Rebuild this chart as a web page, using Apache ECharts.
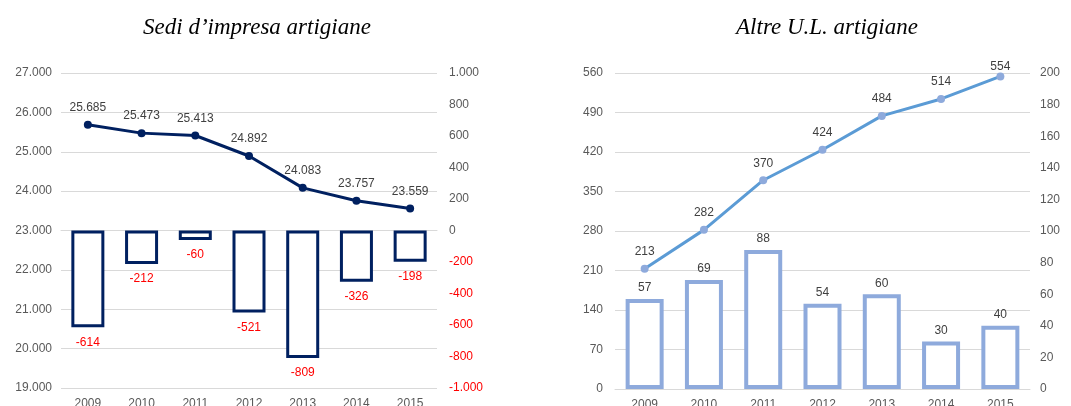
<!DOCTYPE html>
<html><head><meta charset="utf-8">
<script src="https://cdn.jsdelivr.net/npm/echarts@6/dist/echarts.min.js"></script>
<style>html,body{margin:0;padding:0;background:#fff}#c{width:1071px;height:406px}</style>
</head><body><div id="c"></div>
<script>
const years = ['2009','2010','2011','2012','2013','2014','2015'];
const sediTotal = [25685, 25473, 25413, 24892, 24083, 23757, 23559];
const sediDelta = [-614, -212, -60, -521, -809, -326, -198];
const altreTotal = [213, 282, 370, 424, 484, 514, 554];
const altreDelta = [57, 69, 88, 54, 60, 30, 40];
const leftTitle = 'Sedi d\u2019impresa artigiane';
const rightTitle = 'Altre U.L. artigiane';

function fmt(v){
  const s = Math.abs(v).toString().replace(/\B(?=(\d{3})+(?!\d))/g, '.');
  return (v < 0 ? '-' : '') + s;
}
const gray = '#595959';
const labGray = '#404040';
const grid = '#d9d9d9';
const font = 'Liberation Sans, Arial, sans-serif';
const titleStyle = {fontFamily:'Liberation Serif, Times New Roman, serif', fontStyle:'italic', fontWeight:'normal', fontSize:23, color:'#000'};

const chart = echarts.init(document.getElementById('c'), null, {renderer:'canvas'});
const xBase = {
  type:'category', data: years,
  axisLine:{show:true, lineStyle:{color:grid, width:1}},
  axisTick:{show:false},
  axisLabel:{color:gray, fontSize:12, fontFamily:font, margin:10}
};
const yBase = {
  type:'value',
  axisLine:{show:false}, axisTick:{show:false},
  splitLine:{show:true, lineStyle:{color:grid, width:1}},
  axisLabel:{color:gray, fontSize:12, fontFamily:font, formatter:fmt}
};
const lastIdx = altreTotal.length - 1;
chart.setOption({
  animation:false,
  title:[
    {text:leftTitle, left:252, top:11, textAlign:'center', textStyle:titleStyle},
    {text:rightTitle, left:822, top:11, textAlign:'center', textStyle:titleStyle}
  ],
  grid:[
    {left:61, right:634, top:73, bottom:18, outerBoundsMode:'none', containLabel:false},
    {left:615, right:41, top:73, bottom:17, outerBoundsMode:'none', containLabel:false}
  ],
  xAxis:[
    Object.assign({}, xBase, {gridIndex:0}),
    Object.assign({}, xBase, {gridIndex:1})
  ],
  yAxis:[
    Object.assign({}, yBase, {gridIndex:0, min:19000, max:27000, interval:1000, axisLabel:Object.assign({}, yBase.axisLabel, {margin:9})}),
    Object.assign({}, yBase, {gridIndex:0, min:-1000, max:1000, interval:200, position:'right', splitLine:{show:false},
      axisLabel:{fontSize:12, fontFamily:font, margin:12, formatter:fmt,
        color:function(v){ return Number(v) < 0 ? '#ff0000' : gray; }}}),
    Object.assign({}, yBase, {gridIndex:1, min:0, max:560, interval:70, axisLabel:Object.assign({}, yBase.axisLabel, {margin:12})}),
    Object.assign({}, yBase, {gridIndex:1, min:0, max:200, interval:20, position:'right', splitLine:{show:false}, axisLabel:Object.assign({}, yBase.axisLabel, {margin:10})})
  ],
  series:[
    {type:'bar', xAxisIndex:0, yAxisIndex:1, data:sediDelta, barWidth:33,
     itemStyle:{color:'#ffffff', borderColor:'#002060', borderWidth:3},
     label:{show:true, position:'bottom', distance:9, color:'#ff0000', fontSize:12, fontFamily:font, formatter:p=>fmt(p.value)}},
    {type:'line', xAxisIndex:0, yAxisIndex:0, data:sediTotal, z:5,
     lineStyle:{color:'#002060', width:3}, itemStyle:{color:'#002060'},
     symbol:'circle', symbolSize:8,
     label:{show:true, position:'top', distance:7, color:labGray, fontSize:12, fontFamily:font, formatter:p=>fmt(p.value)}},
    {type:'bar', xAxisIndex:1, yAxisIndex:3, data:altreDelta, barWidth:38,
     itemStyle:{color:'#ffffff', borderColor:'#8eaadc', borderWidth:4},
     label:{show:true, position:'top', distance:5, color:labGray, fontSize:12, fontFamily:font}},
    {type:'line', xAxisIndex:1, yAxisIndex:2, z:5,
     data: altreTotal.map((v,i) => i === lastIdx ? {value:v, label:{distance:0}} : v),
     lineStyle:{color:'#5b9bd5', width:3}, itemStyle:{color:'#8eaadc'},
     symbol:'circle', symbolSize:8,
     label:{show:true, position:'top', distance:7, color:labGray, fontSize:12, fontFamily:font}}
  ]
});
</script></body></html>
